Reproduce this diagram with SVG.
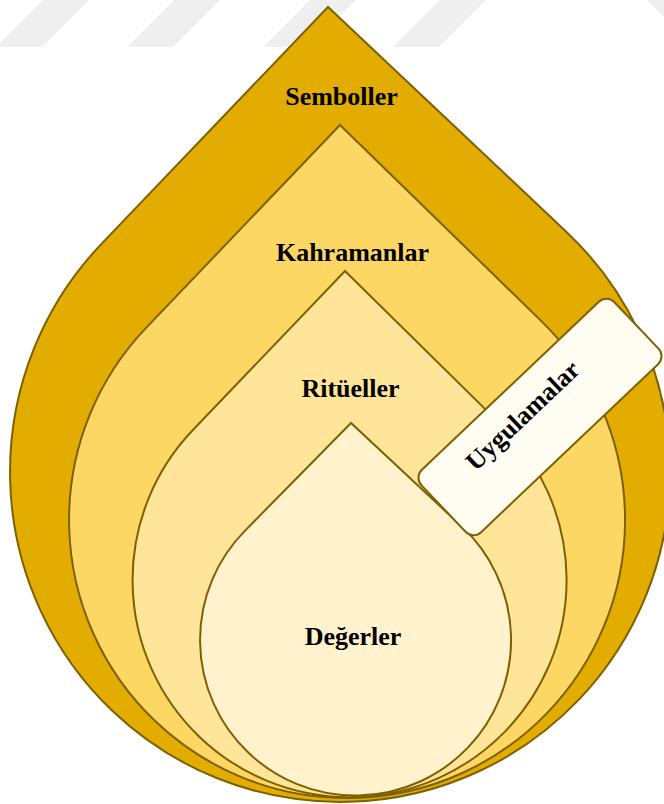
<svg xmlns="http://www.w3.org/2000/svg" width="664" height="804" viewBox="0 0 664 804">
<style>
.stripe{fill:#efefef}
.drop{stroke:#7f6000;stroke-width:2;stroke-linejoin:miter}
.lbl{font-family:"Liberation Serif","Times New Roman",serif;font-weight:bold;font-size:26px;fill:#000;text-anchor:middle}
</style>
<rect width="664" height="804" fill="#ffffff"/>
<g id="watermark">
<polygon class="stripe" points="-4,47 42,47 89,0 43,0"/>
<polygon class="stripe" points="127,47 173,47 220,0 174,0"/>
<polygon class="stripe" points="263,47 309,47 356,0 310,0"/>
<polygon class="stripe" points="393,47 439,47 486,0 440,0"/>
<polygon class="stripe" points="647,0 664,0 664,17"/>
</g>
<g id="semboller">
<path class="drop" fill="#e2ac00" d="M328,7 L101.5,243.9 A330,330 0 1 0 566.5,231.9 Z"/>
<text class="lbl" x="341.5" y="105">Semboller</text>
</g>
<g id="kahramanlar">
<path class="drop" fill="#fdd764" d="M340,125 L146.1,327.9 A278,278 0 1 0 541.1,320.9 Z"/>
<text class="lbl" x="352.5" y="261">Kahramanlar</text>
</g>
<g id="ritueller">
<path class="drop" fill="#ffe599" d="M345,271 L192.9,430 A217,217 0 1 0 501.7,425.4 Z"/>
<text class="lbl" x="350.5" y="397">Ritüeller</text>
</g>
<g id="degerler">
<path class="drop" fill="#fff2cc" d="M351,423 L244.8,530.9 A155.5,155.5 0 1 0 461.6,526.3 Z"/>
<text class="lbl" x="353" y="645">Değerler</text>
</g>
<g id="uygulamalar">
<rect x="407" y="374" width="266" height="86" rx="11" ry="11" fill="#fffcf2" stroke="#7f6000" stroke-width="2" transform="rotate(-43.5 540 417)"/>
<text class="lbl" x="528.6" y="421.7" transform="rotate(-43.5 528.6 421.7)">Uygulamalar</text>
</g>
<g id="connectors"/>
</svg>
